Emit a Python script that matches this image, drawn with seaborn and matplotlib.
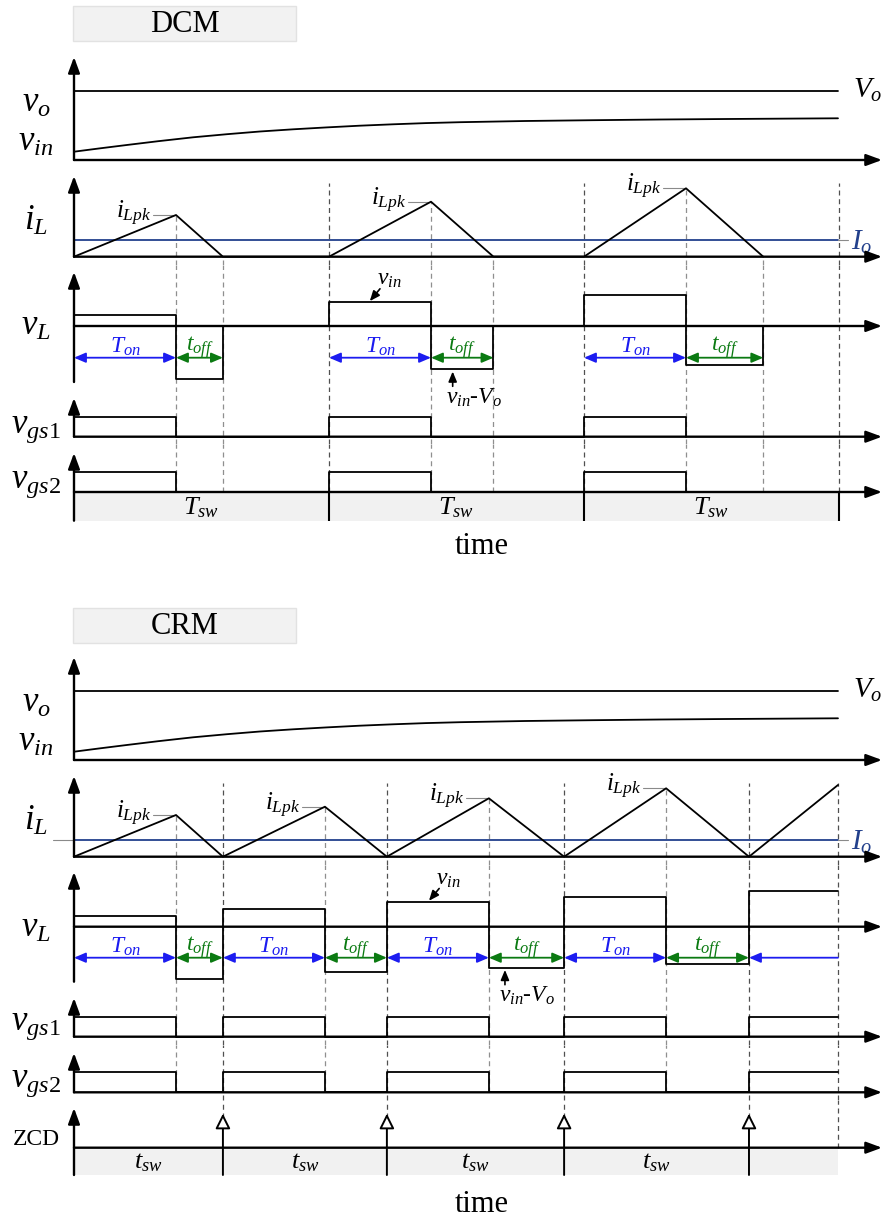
"""DCM vs CRM boost-PFC timing diagrams (vo/vin, iL, vL, gate signals, ZCD)."""
import matplotlib
matplotlib.use('Agg')
import matplotlib.pyplot as plt
from matplotlib.patches import Rectangle
import seaborn as sns

# ---- waveform data: time in switching units, amplitudes in arbitrary units ----
T_ON = 4.0
T_END = 29.96
VO = 6.93
IO = 1.67
GATE_HI = 2.0

VIN_T = [0.0, 1.0, 2.07, 3.3, 4.67, 6.0, 7.29, 8.6, 9.91, 11.2, 12.51, 13.8,
         15.14, 17.7, 20.35, 23.0, 25.6, 29.96]
VIN_V = [0.83, 1.16, 1.5, 1.88, 2.27, 2.58, 2.85, 3.07, 3.26, 3.43, 3.57, 3.69,
         3.78, 3.9, 3.98, 4.05, 4.1, 4.17]

# DCM: fixed switching period
DCM_START = [0.0, 10.0, 20.0, 30.0]
DCM_TOFF = [1.84, 2.45, 3.03]
DCM_IPK = [4.17, 5.5, 6.84]
DCM_VL_ON = [1.1, 2.37, 3.1]
DCM_VL_OFF = [-5.27, -4.33, -3.9]

# CRM: next cycle starts when the current reaches zero
CRM_TOFF = [1.84, 2.43, 2.95, 3.25]
CRM_IPK = [4.17, 5.0, 5.84, 6.84]
CRM_I_END = 7.17
CRM_VL_ON = [1.1, 1.74, 2.47, 3.0, 3.57]
CRM_VL_OFF = [-5.2, -4.5, -4.1, -3.73]

# ---- layout ----
W, H = 885, 1222
X0 = 74          # pixel of the time origin
PX_T = 25.5      # pixels per time unit
PX_V = 10.0      # pixels per amplitude unit
X_TIP = (W - X0 - 3) / PX_T

BLUE = '#1c1cf0'
GREEN = '#0b7a12'
NAVY = '#22408c'
DASH_DARK = '#505050'
DASH_LIGHT = '#8f8f8f'
BAND = '#f1f1f1'
LW = 1.3

sns.set_theme(style='white')
plt.rcParams['font.family'] = ['Liberation Serif', 'DejaVu Serif']
plt.rcParams['text.color'] = 'black'
plt.rcParams['mathtext.fontset'] = 'custom'
plt.rcParams['mathtext.rm'] = 'Liberation Serif'
plt.rcParams['mathtext.it'] = 'Liberation Serif:italic'
plt.rcParams['mathtext.bf'] = 'Liberation Serif:bold'

fig = plt.figure(figsize=(W / 100, H / 100), dpi=100)

AX_ARROW = dict(arrowstyle='-|>,head_length=0.95,head_width=0.35', color='black',
                lw=1.7, shrinkA=0, shrinkB=0, mutation_scale=10)


def ftext(x, y, s, **kw):
    fig.text(x / W, 1 - y / H, s, **kw)


def row(top, bot, base):
    ax = fig.add_axes([0, 1 - bot / H, 1, (bot - top) / H])
    ax.set_xlim(-X0 / PX_T, (W - X0) / PX_T)
    ax.set_ylim((base - bot) / PX_V, (base - top) / PX_V)
    ax.set_axis_off()
    return ax


def trace(ax, x, y, color='black', **kw):
    sns.lineplot(x=x, y=y, ax=ax, estimator=None, sort=False, color=color,
                 linewidth=LW, zorder=3, **kw)


def axes_arrows(ax, tip, bottom=0.0, xaxis=True):
    ax.annotate('', xy=(0, tip), xytext=(0, bottom), arrowprops=AX_ARROW,
                annotation_clip=False, zorder=4)
    if xaxis:
        ax.annotate('', xy=(X_TIP, 0), xytext=(0, 0), arrowprops=AX_ARROW,
                    annotation_clip=False, zorder=4)


def dashes(ax, xs, lo=None, hi=None, color=DASH_LIGHT):
    y0, y1 = ax.get_ylim()
    lo = y0 if lo is None else lo
    hi = y1 if hi is None else hi
    for x in xs:
        ax.plot([x, x], [lo, hi], color=color, lw=0.9, ls=(0, (4, 3)), zorder=1)


def title_box(y, label):
    fig.patches.append(Rectangle((73 / W, 1 - (y + 35) / H), 223 / W, 35 / H,
                                 transform=fig.transFigure, fc='#f2f2f2',
                                 ec='#e2e2e2', lw=1))
    ftext(185, y + 18, label, ha='center', va='center', fontsize=22)


def panel_vo_vin(top, base):
    ax = row(top - 7, base + 8, base)
    trace(ax, [0, T_END], [VO, VO])
    trace(ax, VIN_T, VIN_V)
    axes_arrows(ax, (base - top) / PX_V)
    ax.text(T_END + 0.6, VO, r'$V_o$', fontsize=21, va='center', ha='left')
    ftext(36, base - 48, r'$v_o$', fontsize=25, ha='center', va='baseline')
    ftext(36, base - 9, r'$v_{in}$', fontsize=25, ha='center', va='baseline')


def il_extras(ax, peaks_t, peaks_i, left_tick=False):
    ax.plot([0, T_END], [IO, IO], color=NAVY, lw=1.3, zorder=2)
    ax.plot([T_END, T_END + 0.4], [IO, IO], color='#8a8a8a', lw=0.8)
    if left_tick:
        ax.plot([-0.82, 0], [IO, IO], color='#8a8a8a', lw=0.8)
    ax.text(T_END + 0.5, IO - 0.2, r'$I_o$', color=NAVY, fontsize=21,
            va='center', ha='left')
    for t, i in zip(peaks_t, peaks_i):
        ax.plot([t - 0.9, t], [i, i], color='#8a8a8a', lw=0.8, zorder=2)
        ax.text(t - 0.95, i + 0.15, r'$i_{Lpk}$', fontsize=18, ha='right',
                va='center')


def ton_toff_arrows(ax, spans_on, spans_off, y, open_last=None):
    arr = dict(arrowstyle='<|-|>,head_length=0.7,head_width=0.3', lw=1.3,
               shrinkA=0, shrinkB=0, mutation_scale=10)
    for a, b in spans_on:
        ax.annotate('', xy=(a, y), xytext=(b, y), arrowprops=dict(arr, color=BLUE))
        ax.text((a + b) / 2, y + 1.05, r'$T_{on}$', color=BLUE, fontsize=17,
                ha='center', va='center')
    for a, b in spans_off:
        ax.annotate('', xy=(a, y), xytext=(b, y), arrowprops=dict(arr, color=GREEN))
        ax.text((a + b) / 2, y + 1.05, r'$t_{off}$', color=GREEN, fontsize=17,
                ha='center', va='center')
    if open_last is not None:
        a, b = open_last
        ax.annotate('', xy=(a, y), xytext=(b, y),
                    arrowprops=dict(arr, arrowstyle='-|>,head_length=0.7,head_width=0.3',
                                    color=BLUE))


def vin_notes(ax, t_on, v_on, t_off, v_off):
    note = dict(arrowstyle='-|>,head_length=0.6,head_width=0.25', color='black',
                lw=1.2, shrinkA=0, shrinkB=0, mutation_scale=10)
    ax.annotate('', xy=(t_on, v_on + 0.12), xytext=(t_on + 0.4, v_on + 1.35),
                arrowprops=note)
    ax.text(t_on + 0.75, v_on + 2.3, r'$v_{in}$', fontsize=17, ha='center',
            va='center')
    ax.annotate('', xy=(t_off, v_off - 0.22), xytext=(t_off, v_off - 1.7),
                arrowprops=note)
    ax.text(t_off - 0.25, v_off - 2.85, r'$v_{in}$-$V_o$', fontsize=17,
            ha='left', va='center')


# ================================ DCM ================================
title_box(6, 'DCM')
panel_vo_vin(57, 160)

dcm_on_end = [s + T_ON for s in DCM_START[:3]]
dcm_off_end = [s + T_ON + d for s, d in zip(DCM_START, DCM_TOFF)]
bounds = DCM_START[1:]

# iL
ax = row(168, 265, 256.7)
il_t, il_y = [], []
for s, d, pk in zip(DCM_START, DCM_TOFF, DCM_IPK):
    il_t += [s, s + T_ON, s + T_ON + d]
    il_y += [0, pk, 0]
trace(ax, il_t, il_y)
axes_arrows(ax, (256.7 - 176) / PX_V)
il_extras(ax, dcm_on_end, DCM_IPK)
dashes(ax, bounds, hi=7.37, color=DASH_DARK)
for t, pk in zip(dcm_on_end, DCM_IPK):
    dashes(ax, [t], hi=pk)
dashes(ax, dcm_off_end, hi=0)
ftext(36, 230, r'$i_L$', fontsize=25, ha='center', va='baseline')

# vL
ax = row(265, 392, 326)
vl_t, vl_y = [], []
for s, d, on, off in zip(DCM_START, DCM_TOFF, DCM_VL_ON, DCM_VL_OFF):
    vl_t += [s, s + T_ON, s + T_ON + d]
    vl_y += [on, off, 0]
trace(ax, vl_t, vl_y, drawstyle='steps-post')
axes_arrows(ax, (326 - 272) / PX_V, bottom=-5.6)
dashes(ax, bounds, color=DASH_DARK)
dashes(ax, dcm_on_end + dcm_off_end)
ton_toff_arrows(ax, list(zip(DCM_START[:3], dcm_on_end)),
                list(zip(dcm_on_end, dcm_off_end)), -3.17)
vin_notes(ax, DCM_START[1] + 1.6, DCM_VL_ON[1], dcm_on_end[1] + 0.85, DCM_VL_OFF[1])
ftext(36, 335, r'$v_L$', fontsize=25, ha='center', va='baseline')

# gate signals
gate_t, gate_y = [], []
for s in DCM_START[:3]:
    gate_t += [s, s + T_ON]
    gate_y += [GATE_HI, 0]

ax = row(392, 444, 436.7)
trace(ax, gate_t, gate_y, drawstyle='steps-post')
axes_arrows(ax, (436.7 - 398) / PX_V)
dashes(ax, bounds, color=DASH_DARK)
dashes(ax, dcm_on_end + dcm_off_end)
ftext(36, 433, r'$v_{gs1}$', fontsize=25, ha='center', va='baseline')

ax = row(444, 530, 492)
trace(ax, gate_t, gate_y, drawstyle='steps-post')
band = -(520.7 - 492) / PX_V
ax.fill_between([0, DCM_START[-1]], band, 0, color=BAND, lw=0, zorder=0)
axes_arrows(ax, (492 - 453) / PX_V, bottom=band)
dashes(ax, bounds, lo=0, color=DASH_DARK)
dashes(ax, dcm_on_end + dcm_off_end, lo=0)
ax.vlines(bounds, band, 0, colors='black', lw=1.5, zorder=3)
for a, b in zip(DCM_START[:-1], DCM_START[1:]):
    ax.text((a + b) / 2, band / 2 - 0.1, r'$T_{sw}$', fontsize=19,
            ha='center', va='center')
ftext(36, 488, r'$v_{gs2}$', fontsize=25, ha='center', va='baseline')

ftext(482, 547, 'time', fontsize=22, ha='center', va='center')

# ================================ CRM ================================
title_box(608, 'CRM')
panel_vo_vin(657, 760)

crm_start = [0.0]
for d in CRM_TOFF:
    crm_start.append(crm_start[-1] + T_ON + d)
crm_on_end = [s + T_ON for s in crm_start[:4]]
crm_bounds = crm_start[1:]

# iL
ax = row(768, 865, 856.7)
il_t, il_y = [], []
for s, pk in zip(crm_start[:4], CRM_IPK):
    il_t += [s, s + T_ON]
    il_y += [0, pk]
il_t += [crm_start[4], T_END]
il_y += [0, CRM_I_END]
trace(ax, il_t, il_y)
axes_arrows(ax, (856.7 - 776) / PX_V)
il_extras(ax, crm_on_end, CRM_IPK, left_tick=True)
dashes(ax, crm_bounds + [T_END], hi=7.37, color=DASH_DARK)
for t, pk in zip(crm_on_end, CRM_IPK):
    dashes(ax, [t], hi=pk)
ftext(36, 830, r'$i_L$', fontsize=25, ha='center', va='baseline')

# vL
ax = row(865, 992, 926.7)
vl_t, vl_y = [], []
for s, on, off in zip(crm_start[:4], CRM_VL_ON, CRM_VL_OFF):
    vl_t += [s, s + T_ON]
    vl_y += [on, off]
vl_t += [crm_start[4], T_END]
vl_y += [CRM_VL_ON[4], CRM_VL_ON[4]]
trace(ax, vl_t, vl_y, drawstyle='steps-post')
axes_arrows(ax, (926.7 - 872) / PX_V, bottom=-5.5)
dashes(ax, crm_bounds + [T_END], color=DASH_DARK)
dashes(ax, crm_on_end)
ton_toff_arrows(ax, list(zip(crm_start[:4], crm_on_end)),
                list(zip(crm_on_end, crm_start[1:])), -3.1,
                open_last=(crm_start[4], T_END))
vin_notes(ax, crm_start[2] + 1.65, CRM_VL_ON[2], crm_on_end[2] + 0.63, CRM_VL_OFF[2])
ftext(36, 937, r'$v_L$', fontsize=25, ha='center', va='baseline')

# gate signals
gate_t, gate_y = [], []
for s in crm_start[:4]:
    gate_t += [s, s + T_ON]
    gate_y += [GATE_HI, 0]
gate_t += [crm_start[4], T_END]
gate_y += [GATE_HI, GATE_HI]

ax = row(992, 1045, 1036.7)
trace(ax, gate_t, gate_y, drawstyle='steps-post')
axes_arrows(ax, (1036.7 - 998) / PX_V)
dashes(ax, crm_bounds + [T_END], color=DASH_DARK)
dashes(ax, crm_on_end)
ftext(36, 1030, r'$v_{gs1}$', fontsize=25, ha='center', va='baseline')

ax = row(1045, 1100, 1092.3)
trace(ax, gate_t, gate_y, drawstyle='steps-post')
axes_arrows(ax, (1092.3 - 1053) / PX_V)
dashes(ax, crm_bounds + [T_END], color=DASH_DARK)
dashes(ax, crm_on_end, lo=0)
ftext(36, 1087, r'$v_{gs2}$', fontsize=25, ha='center', va='baseline')

# ZCD
ax = row(1100, 1185, 1147.7)
band = -(1175 - 1147.7) / PX_V
ax.fill_between([0, T_END], band, 0, color=BAND, lw=0, zorder=0)
axes_arrows(ax, (1147.7 - 1108) / PX_V, bottom=band)
dashes(ax, crm_bounds, lo=3.0, color=DASH_DARK)
dashes(ax, [T_END], lo=0, color=DASH_DARK)
zcd = dict(arrowstyle='-|>,head_length=0.9,head_width=0.45', fc='white',
           ec='black', lw=1.4, shrinkA=0, shrinkB=0, mutation_scale=10)
for t in crm_bounds:
    ax.annotate('', xy=(t, 3.4), xytext=(t, band), arrowprops=zcd, zorder=4)
for a, b in zip(crm_start[:-1], crm_start[1:]):
    ax.text((a + b) / 2, band / 2 - 0.1, r'$t_{sw}$', fontsize=19,
            ha='center', va='center')
ftext(36, 1145, 'ZCD', fontsize=17, ha='center', va='baseline')

ftext(482, 1205, 'time', fontsize=22, ha='center', va='center')

fig.savefig('out.png', dpi=100)
